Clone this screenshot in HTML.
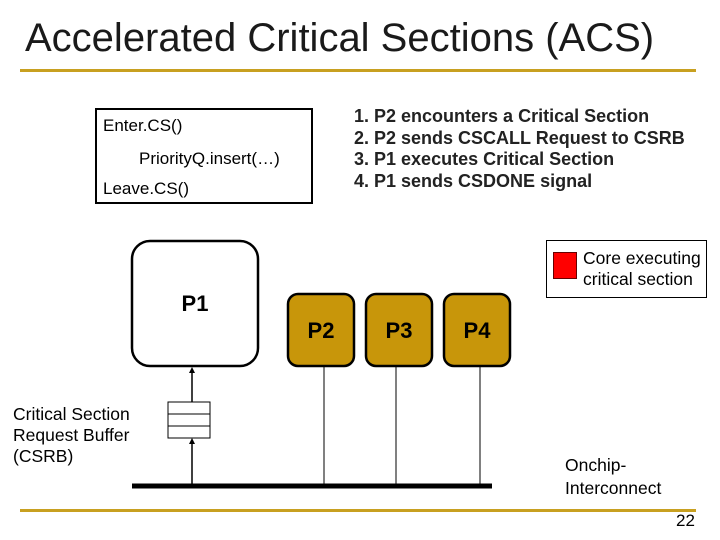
<!DOCTYPE html>
<html><head><style>
body{margin:0;width:720px;height:540px;background:#fff;position:relative;font-family:"Liberation Sans",sans-serif;overflow:hidden}
.a{position:absolute}
</style></head><body>
<div class="a" style="left:25px;top:16px;font-size:40px;color:#1a1a1a;white-space:nowrap">Accelerated Critical Sections (ACS)</div>
<div class="a" style="left:20px;top:69px;width:676px;height:3px;background:#c8a020"></div>
<div class="a" style="left:20px;top:509px;width:676px;height:3px;background:#c8a020"></div>
<div class="a" style="left:676px;top:511px;font-size:17px">22</div>

<div class="a" style="left:95px;top:108px;width:214px;height:92px;border:2px solid #000;font-size:17px;white-space:nowrap">
<div class="a" style="left:6px;top:6px">Enter.CS()</div>
<div class="a" style="left:42px;top:39px">PriorityQ.insert(…)</div>
<div class="a" style="left:6px;top:69px">Leave.CS()</div>
</div>
<div class="a" style="left:354px;top:106px;font-size:18px;font-weight:bold;line-height:21.5px;color:#222;white-space:nowrap">
1. P2 encounters a Critical Section<br>2. P2 sends CSCALL Request to CSRB<br>3. P1 executes Critical Section<br>4. P1 sends CSDONE signal</div>

<div class="a" style="left:546px;top:240px;width:159px;height:56px;border:1px solid #000"></div>
<div class="a" style="left:553px;top:252px;width:22px;height:25px;background:#f00;border:1px solid #600"></div>
<div class="a" style="left:583px;top:248px;font-size:17.5px;line-height:21px;white-space:nowrap">Core executing<br>critical section</div>

<svg class="a" style="left:0;top:0" width="720" height="540">
<rect x="132" y="241" width="126" height="125" rx="18" fill="#fff" stroke="#000" stroke-width="2.5"/>
<text x="195" y="311" font-size="22" font-weight="bold" text-anchor="middle" font-family="Liberation Sans">P1</text>
<g fill="#c8960a" stroke="#000" stroke-width="2.5">
<rect x="288" y="294" width="66" height="72" rx="10"/>
<rect x="366" y="294" width="66" height="72" rx="10"/>
<rect x="444" y="294" width="66" height="72" rx="10"/>
</g>
<g font-size="22" font-weight="bold" text-anchor="middle" font-family="Liberation Sans">
<text x="321" y="338">P2</text><text x="399" y="338">P3</text><text x="477" y="338">P4</text>
</g>
<g stroke="#000" stroke-width="1">
<line x1="324" y1="367" x2="324" y2="486"/>
<line x1="396" y1="367" x2="396" y2="486"/>
<line x1="480" y1="367" x2="480" y2="486"/>
<rect x="168" y="402" width="42" height="36" fill="#fff"/>
<line x1="168" y1="414" x2="210" y2="414"/><line x1="168" y1="426" x2="210" y2="426"/>
</g>
<line x1="132" y1="486" x2="492" y2="486" stroke="#000" stroke-width="5"/>
<g stroke="#000" stroke-width="1.5">
<line x1="192" y1="486" x2="192" y2="443"/><line x1="192" y1="402" x2="192" y2="371"/>
</g>
<polygon points="189,444 195,444 192,438" fill="#000"/>
<polygon points="189,373 195,373 192,367" fill="#000"/>
</svg>
<div class="a" style="left:13px;top:404px;font-size:17.5px;line-height:21px;white-space:nowrap">Critical Section<br>Request Buffer<br>(CSRB)</div>
<div class="a" style="left:565px;top:454px;font-size:17.5px;line-height:23px;white-space:nowrap">Onchip-<br>Interconnect</div>
</body></html>
